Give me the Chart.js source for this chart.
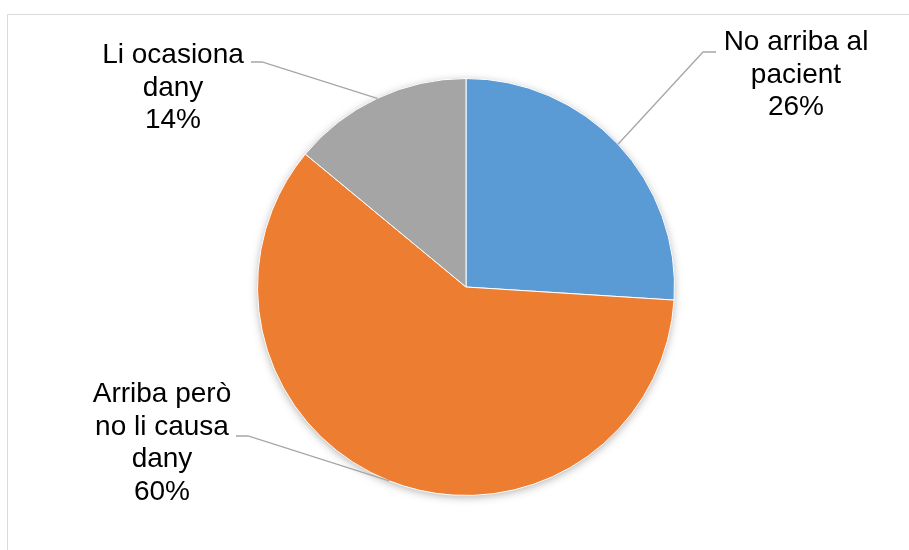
<!DOCTYPE html>
<html>
<head>
<meta charset="utf-8">
<script src="https://cdn.jsdelivr.net/npm/chart.js@4/dist/chart.umd.min.js"></script>
<style>
  html, body { margin: 0; padding: 0; background: #fff; }
  #wrap { width: 909px; height: 550px; }
</style>
</head>
<body>
<div id="wrap"><canvas id="pieChart" width="909" height="550"></canvas></div>
<script>
let labels = [
    ["No arriba al", "pacient"],
    ["Arriba però", "no li causa", "dany"],
    ["Li ocasiona", "dany"]
];
let values = [26, 60, 14];
let colors = ['#5B9BD5', '#ED7D31', '#A5A5A5'];

// where each label sits: text centre x, first baseline y, elbow of the leader line, end of leader line
let labelLayout = [
    { x: 796, y: 50, elbow: [703, 52], end: [716, 52] },
    { x: 162, y: 402, elbow: [248, 436], end: [236, 436] },
    { x: 173, y: 63, elbow: [262, 62], end: [251, 62] }
];

const framePlugin = {
    id: 'frame',
    beforeDraw(chart) {
        let ctx = chart.ctx;
        ctx.save();
        ctx.fillStyle = '#fff';
        ctx.fillRect(0, 0, chart.width, chart.height);
        ctx.strokeStyle = '#d9d9d9';
        ctx.lineWidth = 1;
        ctx.beginPath();
        ctx.moveTo(7.5, chart.height);
        ctx.lineTo(7.5, 14.5);
        ctx.lineTo(chart.width, 14.5);
        ctx.stroke();
        ctx.restore();
    },
    beforeDatasetsDraw(chart) {
        let arc = chart.getDatasetMeta(0).data[0];
        if (!arc) return;
        let ctx = chart.ctx;
        ctx.save();
        ctx.shadowColor = 'rgba(0,0,0,0.35)';
        ctx.shadowBlur = 10;
        ctx.shadowOffsetY = 2;
        ctx.fillStyle = '#fff';
        ctx.beginPath();
        ctx.arc(arc.x, arc.y, arc.outerRadius - 1, 0, Math.PI * 2);
        ctx.fill();
        ctx.restore();
    }
};

const calloutPlugin = {
    id: 'callouts',
    afterDatasetsDraw(chart) {
        let ctx = chart.ctx;
        let meta = chart.getDatasetMeta(0);
        ctx.save();
        meta.data.forEach((arc, i) => {
            let mid = (arc.startAngle + arc.endAngle) / 2;
            let px = arc.x + Math.cos(mid) * arc.outerRadius;
            let py = arc.y + Math.sin(mid) * arc.outerRadius;
            let lay = labelLayout[i];
            ctx.strokeStyle = '#a6a6a6';
            ctx.lineWidth = 1.3;
            ctx.beginPath();
            ctx.moveTo(px, py);
            ctx.lineTo(lay.elbow[0], lay.elbow[1]);
            ctx.lineTo(lay.end[0], lay.end[1]);
            ctx.stroke();

            let lines = labels[i].concat([values[i] + '%']);
            ctx.fillStyle = '#000';
            ctx.font = '28px "Liberation Sans", Arial, sans-serif';
            ctx.textAlign = 'center';
            ctx.textBaseline = 'alphabetic';
            lines.forEach((t, k) => {
                ctx.fillText(t, lay.x, lay.y + k * 32.5);
            });
        });
        ctx.restore();
    }
};

new Chart(document.getElementById('pieChart'), {
    type: 'pie',
    data: {
        labels: labels,
        datasets: [{
            data: values,
            backgroundColor: colors,
            borderColor: '#ffffff',
            borderWidth: 1
        }]
    },
    options: {
        responsive: false,
        animation: false,
        layout: {
            padding: { top: 78, bottom: 54, left: 257, right: 234 }
        },
        plugins: {
            legend: { display: false },
            tooltip: { enabled: false }
        }
    },
    plugins: [framePlugin, calloutPlugin]
});
</script>
</body>
</html>
